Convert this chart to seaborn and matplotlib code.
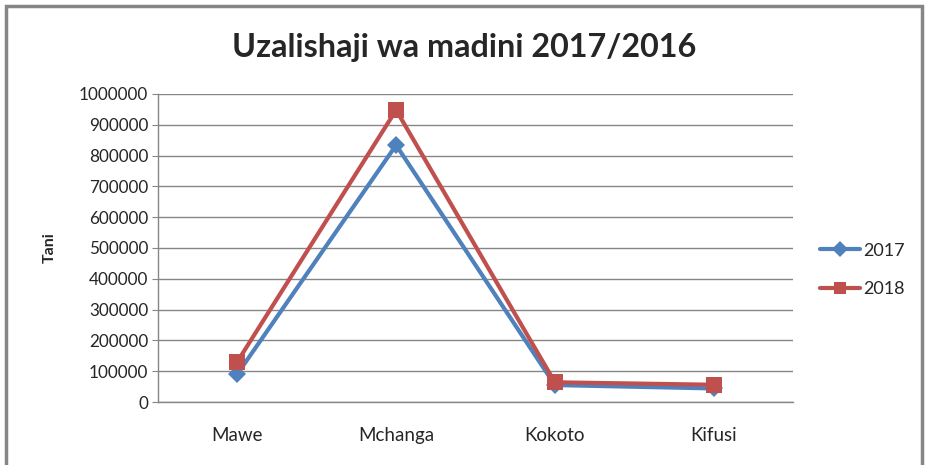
import matplotlib
matplotlib.use("Agg")
import matplotlib.pyplot as plt
import seaborn as sns
import pandas as pd
from matplotlib.patches import Rectangle

# data
categories = ["Mawe", "Mchanga", "Kokoto", "Kifusi"]
tani_2017 = [91000, 834000, 55000, 44000]
tani_2018 = [131000, 948000, 64000, 56000]

df = pd.DataFrame({
    "Madini": categories * 2,
    "Tani": tani_2017 + tani_2018,
    "Mwaka": ["2017"] * 4 + ["2018"] * 4,
})

sns.set_style("white")
plt.rcParams["font.family"] = ["Lato", "DejaVu Sans"]

fig = plt.figure(figsize=(9.28, 4.65), dpi=100)
ax = fig.add_axes([158 / 928, 1 - 402 / 465, 635 / 928, 308 / 465])

palette = {"2017": "#4F81BD", "2018": "#C0504D"}
sns.lineplot(data=df, x="Madini", y="Tani", hue="Mwaka", style="Mwaka",
             markers={"2017": "D", "2018": "s"}, dashes=False, palette=palette,
             linewidth=3, markersize=9, markeredgewidth=0, sort=False, ax=ax)
# bigger squares for 2018
for line in ax.get_lines():
    if line.get_marker() == "s":
        line.set_markersize(11)

ax.set_xlim(-0.5, 3.5)
ax.set_ylim(0, 1000000)
ax.set_yticks(range(0, 1000001, 100000))
ax.set_yticklabels([str(v) for v in range(0, 1000001, 100000)])
ax.yaxis.grid(True, color="#868686", linewidth=1)
ax.set_axisbelow(True)
for side in ["top", "right"]:
    ax.spines[side].set_visible(False)
for side in ["left", "bottom"]:
    ax.spines[side].set_color("#868686")
    ax.spines[side].set_linewidth(1)
ax.tick_params(axis="y", length=4, color="#868686", labelsize=12.3, pad=3, left=True)
ax.tick_params(axis="x", length=0, labelsize=13.5, pad=18)
ax.set_xlabel("")
ax.set_ylabel("Tani", fontsize=11.5, fontweight="bold", labelpad=16)

fig.text(464 / 928, 1 - 47 / 465, "Uzalishaji wa madini 2017/2016",
         ha="center", va="center", fontsize=23.3, fontweight="bold")

handles, labels = ax.get_legend_handles_labels()
for h in handles:
    h.set_markersize(8)
ax.legend(handles, labels, loc="center left", bbox_to_anchor=(804 / 928, 1 - 270 / 465),
          bbox_transform=fig.transFigure, frameon=False, fontsize=13,
          handlelength=2.2, labelspacing=1.25, handletextpad=0.2)

fig.patches.append(Rectangle((6 / 928, -0.05), 916 / 928, 1.05 - 6 / 465,
                             transform=fig.transFigure, fill=False,
                             edgecolor="#868686", linewidth=2.5))

fig.savefig("out.png", dpi=100)
plt.close(fig)
